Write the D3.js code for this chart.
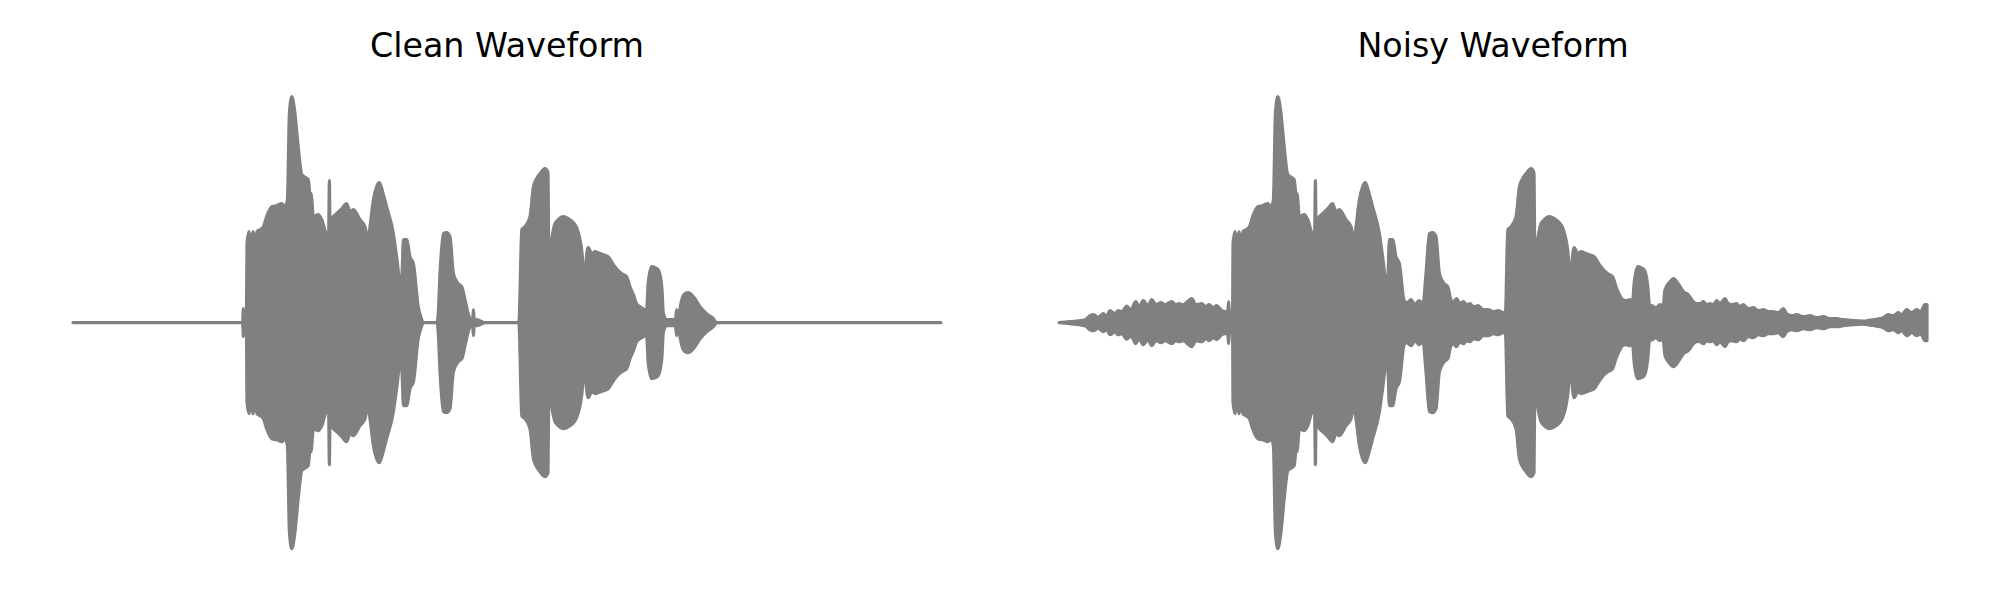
<!DOCTYPE html>
<html><head><meta charset="utf-8">
<script src="https://cdn.jsdelivr.net/npm/d3@7"></script>
<style>body{margin:0;background:#fff}svg{display:block}</style>
</head><body><svg id="chart" width="2000" height="600"></svg>
<script>
// Panel titles
const titles = ["Clean Waveform", "Noisy Waveform"];
// Time domain of each recording, in milliseconds
const timeDomain = [0, 4340];
// Amplitude domain (normalised)
const ampDomain = [-1, 1];

// Clean waveform envelope: [time ms, peak amplitude]
const cleanEnvelope = [
[0,0],[845,0],[848,0],[852,0.056],[857,0.008],[867,0.008],[870,0.316],[880,0.364],[890,0.316],[900,0.364],
[910,0.316],[920,0.364],[935,0.372],[952,0.384],[968,0.424],[994,0.464],[1018,0.468],[1044,0.476],[1060,0.464],[1072,0.492],
[1082,0.836],[1094,0.904],[1110,0.836],[1126,0.704],[1144,0.592],[1176,0.572],[1185,0.516],[1190,0.516],[1202,0.424],[1226,0.432],
[1244,0.412],[1268,0.356],[1278,0.356],[1282,0.568],[1285,0.396],[1302,0.424],[1318,0.436],[1344,0.456],[1368,0.476],[1385,0.444],
[1402,0.452],[1435,0.412],[1460,0.384],[1476,0.332],[1485,0.384],[1502,0.492],[1518,0.544],[1532,0.56],[1552,0.512],[1568,0.464],
[1602,0.356],[1618,0.264],[1635,0.172],[1644,0.184],[1652,0.332],[1668,0.332],[1685,0.264],[1702,0.236],[1726,0.064],[1744,0.012],
[1750,0],[1820,0],[1826,0.036],[1835,0.196],[1852,0.356],[1868,0.36],[1885,0.344],[1902,0.196],[1926,0.156],[1944,0.144],
[1960,0.092],[1976,0.036],[1985,0.016],[1998,0.008],[2002,0.052],[2006,0.012],[2018,0.012],[2035,0.008],[2060,0],[2230,0],
[2232,0.036],[2244,0.372],[2260,0.384],[2285,0.424],[2302,0.544],[2318,0.576],[2335,0.596],[2360,0.616],[2375,0.6],[2380,0.172],
[2388,0.172],[2392,0.32],[2402,0.372],[2410,0.396],[2426,0.412],[2452,0.424],[2468,0.42],[2485,0.412],[2502,0.4],[2518,0.38],
[2535,0.332],[2545,0.28],[2555,0.172],[2562,0.132],[2565,0.24],[2576,0.3],[2594,0.276],[2610,0.284],[2626,0.28],[2652,0.272],
[2676,0.264],[2702,0.232],[2726,0.208],[2744,0.196],[2768,0.184],[2785,0.144],[2802,0.112],[2818,0.076],[2835,0.064],[2868,0.052],
[2876,0.16],[2894,0.224],[2910,0.22],[2926,0.212],[2944,0.144],[2952,0.036],[2968,0.012],[3002,0.012],[3012,0.008],[3018,0.052],
[3024,0.012],[3035,0.056],[3044,0.092],[3060,0.116],[3076,0.12],[3102,0.104],[3135,0.064],[3168,0.036],[3202,0.016],[3218,0],
[4340,0]
];

// Noisy waveform envelope: [time ms, peak amplitude]
const noisyEnvelope = [
[0,0],[55,0.004],[130,0.012],[155,0.028],[172,0.032],[196,0.022],[222,0.036],[238,0.026],[255,0.048],[280,0.036],
[296,0.048],[314,0.044],[338,0.066],[360,0.052],[384,0.084],[400,0.064],[422,0.088],[444,0.068],[464,0.092],[485,0.072],
[510,0.08],[530,0.072],[564,0.084],[584,0.072],[600,0.076],[622,0.072],[642,0.084],[664,0.096],[684,0.072],[714,0.076],
[734,0.064],[750,0.072],[772,0.06],[788,0.068],[814,0.048],[830,0.044],[844,0.044],[848,0.084],[852,0.04],[868,0.04],
[870,0.316],[880,0.364],[890,0.316],[900,0.364],[910,0.316],[920,0.364],[935,0.372],[952,0.384],[968,0.424],[994,0.464],
[1018,0.468],[1044,0.476],[1060,0.464],[1072,0.492],[1082,0.836],[1094,0.904],[1110,0.836],[1126,0.704],[1144,0.592],[1176,0.572],
[1185,0.516],[1190,0.516],[1202,0.424],[1226,0.432],[1244,0.412],[1268,0.356],[1278,0.356],[1282,0.568],[1285,0.396],[1302,0.424],
[1318,0.436],[1344,0.456],[1368,0.476],[1385,0.444],[1402,0.452],[1435,0.412],[1460,0.384],[1476,0.332],[1485,0.384],[1502,0.492],
[1518,0.544],[1532,0.56],[1552,0.512],[1568,0.464],[1602,0.356],[1618,0.264],[1635,0.172],[1644,0.184],[1652,0.332],[1668,0.332],
[1685,0.264],[1702,0.236],[1726,0.088],[1740,0.08],[1760,0.092],[1780,0.072],[1800,0.088],[1820,0.076],[1835,0.196],[1852,0.356],
[1868,0.36],[1885,0.344],[1902,0.196],[1926,0.156],[1944,0.144],[1960,0.092],[1972,0.084],[1988,0.096],[2005,0.076],[2022,0.084],
[2038,0.072],[2055,0.076],[2072,0.064],[2096,0.068],[2122,0.052],[2146,0.052],[2172,0.044],[2196,0.048],[2222,0.04],[2232,0.04],
[2244,0.372],[2260,0.384],[2285,0.424],[2302,0.544],[2318,0.576],[2335,0.596],[2360,0.616],[2375,0.6],[2380,0.172],[2388,0.172],
[2392,0.32],[2402,0.372],[2410,0.396],[2426,0.412],[2452,0.424],[2468,0.42],[2485,0.412],[2502,0.4],[2518,0.38],[2535,0.332],
[2545,0.28],[2555,0.172],[2562,0.132],[2565,0.24],[2576,0.3],[2594,0.276],[2610,0.284],[2626,0.28],[2652,0.272],[2676,0.264],
[2702,0.232],[2726,0.208],[2744,0.196],[2768,0.184],[2785,0.144],[2802,0.112],[2818,0.092],[2835,0.088],[2855,0.092],[2868,0.088],
[2876,0.16],[2894,0.224],[2910,0.22],[2926,0.212],[2944,0.144],[2952,0.072],[2965,0.068],[2985,0.06],[3005,0.072],[3020,0.064],
[3030,0.132],[3055,0.164],[3072,0.176],[3096,0.156],[3122,0.124],[3146,0.112],[3172,0.084],[3188,0.076],[3205,0.076],[3222,0.084],
[3238,0.072],[3255,0.076],[3272,0.072],[3288,0.088],[3305,0.076],[3330,0.096],[3346,0.076],[3364,0.072],[3388,0.076],[3405,0.064],
[3422,0.072],[3446,0.056],[3472,0.06],[3496,0.048],[3522,0.052],[3546,0.044],[3572,0.044],[3596,0.04],[3622,0.056],[3638,0.036],
[3664,0.028],[3688,0.032],[3722,0.024],[3755,0.028],[3788,0.02],[3822,0.024],[3855,0.016],[3888,0.016],[3922,0.012],[3972,0.008],
[4022,0.006],[4055,0.01],[4088,0.014],[4122,0.02],[4146,0.032],[4172,0.028],[4196,0.04],[4214,0.032],[4238,0.052],[4264,0.04],
[4288,0.052],[4308,0.044],[4330,0.072],[4340,0.072]
];

const svg = d3.select("#chart");
const color = "#808080";
const centerY = 322.7, halfH = 250;
const panels = [
  {title: titles[0], data: cleanEnvelope, left: 73, right: 941},
  {title: titles[1], data: noisyEnvelope, left: 1059, right: 1927}
];

const y = d3.scaleLinear().domain(ampDomain).range([centerY + halfH, centerY - halfH]);

panels.forEach(p => {
  const x = d3.scaleLinear().domain(timeDomain).range([p.left, p.right]);
  const g = svg.append("g");
  const area = d3.area()
    .x(d => x(d[0]))
    .y0(d => y(-d[1]))
    .y1(d => y(d[1]))
    .curve(d3.curveMonotoneX);
  g.append("path")
    .datum(p.data)
    .attr("d", area)
    .attr("fill", color)
    .attr("stroke", color)
    .attr("stroke-width", 3.2)
    .attr("stroke-linejoin", "round")
    .attr("stroke-linecap", "round");
  svg.append("text")
    .attr("x", (p.left + p.right) / 2)
    .attr("y", 57)
    .attr("text-anchor", "middle")
    .attr("font-family", "DejaVu Sans, sans-serif")
    .attr("font-size", "33.3px")
    .attr("fill", "#000")
    .text(p.title);
});
</script></body></html>
